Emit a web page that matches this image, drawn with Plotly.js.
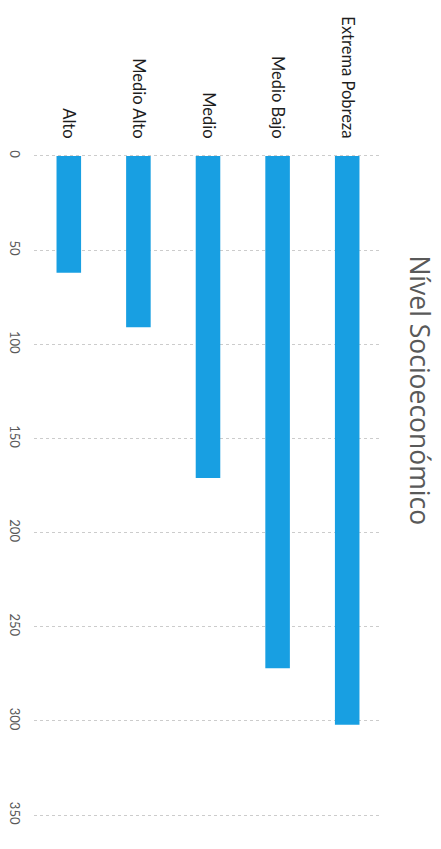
<!DOCTYPE html>
<html>
<head>
<meta charset="utf-8">
<script src="https://cdn.plot.ly/plotly-3.0.1.min.js"></script>
<style>html,body{margin:0;padding:0;background:#fff;}#chart{width:441px;height:849px;}</style>
</head>
<body>
<div id="chart"></div>
<script>
const categories = ['Alto', 'Medio Alto', 'Medio', 'Medio Bajo', 'Extrema Pobreza'];
const values = [62, 91, 171, 272, 302];
const valueTicks = [0, 50, 100, 150, 200, 250, 300, 350];
const chartTitle = 'Nível Socioeconómico';

const trace = {
  type: 'bar',
  x: categories,
  y: values,
  marker: {color: '#189fe2'},
  hoverinfo: 'x+y'
};

const layout = {
  width: 441,
  height: 849,
  margin: {l: 34, r: 59, t: 154, b: 32},
  paper_bgcolor: '#ffffff',
  plot_bgcolor: '#ffffff',
  showlegend: false,
  bargap: 0.647,
  font: {family: 'Lato, "Open Sans", sans-serif'},
  xaxis: {
    type: 'category',
    categoryorder: 'array',
    categoryarray: categories,
    side: 'top',
    tickangle: 90,
    showgrid: false,
    showline: false,
    ticks: '',
    ticklabelstandoff: 12,
    tickfont: {size: 16.5, color: '#1e1e1e', family: 'Lato, sans-serif'}
  },
  yaxis: {
    range: [351, -1],
    tickvals: valueTicks,
    ticktext: valueTicks.map(String),
    tickangle: 90,
    showgrid: true,
    gridcolor: '#cccccc',
    griddash: 'dot',
    gridwidth: 1,
    zeroline: false,
    showline: false,
    ticks: '',
    ticklabelstandoff: 10,
    tickfont: {size: 13, color: '#595959', family: 'Lato, sans-serif'}
  },
  annotations: [{
    text: chartTitle,
    xref: 'paper', yref: 'paper',
    x: 1.11, y: 0.643,
    xanchor: 'center', yanchor: 'middle',
    textangle: 90,
    showarrow: false,
    font: {size: 26.5, color: '#595959', family: '"Open Sans", Lato, sans-serif'}
  }]
};

Plotly.newPlot('chart', [trace], layout, {staticPlot: true, displayModeBar: false});
</script>
</body>
</html>
